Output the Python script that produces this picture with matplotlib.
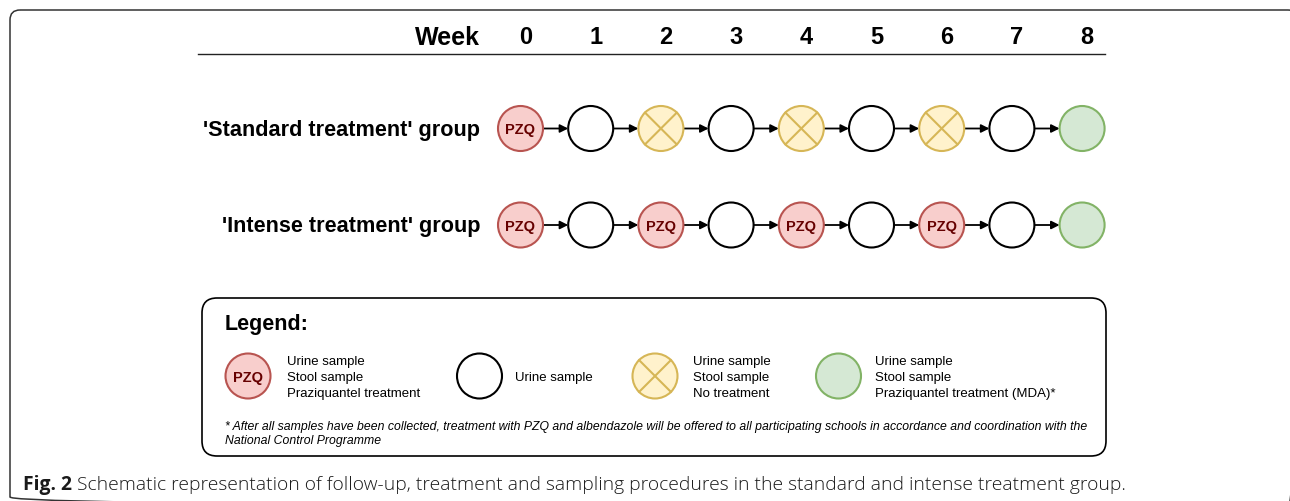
import numpy as np
import matplotlib
matplotlib.use("Agg")
import matplotlib.pyplot as plt
import matplotlib.transforms as mtransforms
from matplotlib.patches import Circle, FancyBboxPatch

plt.rcParams["font.family"] = ["Liberation Sans", "DejaVu Sans"]

# schedule data
weeks = [0, 1, 2, 3, 4, 5, 6, 7, 8]
groups = ["'Standard treatment' group", "'Intense treatment' group"]
standard_visits = ["pzq", "urine", "none", "urine", "none", "urine", "none", "urine", "mda"]
intense_visits = ["pzq", "urine", "pzq", "urine", "pzq", "urine", "pzq", "urine", "mda"]

legend_kinds = ["pzq", "urine", "none", "mda"]
legend_texts = [
    "Urine sample\nStool sample\nPraziquantel treatment",
    "Urine sample",
    "Urine sample\nStool sample\nNo treatment",
    "Urine sample\nStool sample\nPraziquantel treatment (MDA)*",
]
footnote = ("* After all samples have been collected, treatment with PZQ and albendazole will be offered "
            "to all participating schools in accordance and coordination with the\nNational Control Programme")
caption_bold = "Fig. 2"
caption_rest = " Schematic representation of follow-up, treatment and sampling procedures in the standard and intense treatment group."

# draw.io style colours
styles = {
    "pzq": dict(fc="#f8cecc", ec="#b85450"),
    "urine": dict(fc="white", ec="black"),
    "none": dict(fc="#fff2cc", ec="#d6b656"),
    "mda": dict(fc="#d5e8d4", ec="#82b366"),
}

W, H = 1290, 502
fig = plt.figure(figsize=(W / 100, H / 100), dpi=100)
ax = fig.add_axes([0, 0, 1, 1])
ax.set_xlim(0, W)
ax.set_ylim(H, 0)
ax.axis("off")

R = 22.5
x0, step = 520.5, 70.2
row_y = [129.5, 226]


def node(x, y, kind):
    st = styles[kind]
    ax.add_patch(Circle((x, y), R, facecolor=st["fc"], edgecolor=st["ec"], lw=1.5, zorder=3))
    if kind == "pzq":
        ax.text(x, y + 1, "PZQ", ha="center", va="center", fontsize=10.5,
                fontweight="bold", color="#660000", zorder=4)
    elif kind == "none":
        d = R * np.cos(np.pi / 4)
        ax.plot([x - d, x + d], [y - d, y + d], color=st["ec"], lw=1.5, zorder=4)
        ax.plot([x - d, x + d], [y + d, y - d], color=st["ec"], lw=1.5, zorder=4)


# outer frame (runs off the right and bottom of the picture)
ax.add_patch(FancyBboxPatch((10, 11), 1288, 497, boxstyle="round,pad=0,rounding_size=10",
                            fc="none", ec="#333333", lw=1.1, clip_on=False))

# header
ax.text(480, 38, "Week", ha="right", va="center", fontsize=18, fontweight="bold")
for w in weeks:
    ax.text(x0 + w * step + 5, 38, str(w), ha="center", va="center", fontsize=17, fontweight="bold")
ax.plot([198, 1105], [55, 55], color="#222222", lw=1.0)

# rows
for y, label, visits in zip(row_y, groups, [standard_visits, intense_visits]):
    ax.text(480, y + 1, label, ha="right", va="center", fontsize=15.6, fontweight="bold")
    for w, kind in zip(weeks, visits):
        node(x0 + w * step, y, kind)
    for w in weeks[:-1]:
        xa = x0 + w * step + R
        xb = x0 + (w + 1) * step - R
        ax.annotate("", xy=(xb, y), xytext=(xa, y),
                    arrowprops=dict(arrowstyle="-|>", color="black", lw=1.3,
                                    mutation_scale=12, shrinkA=0, shrinkB=0), zorder=2)

# legend box
ax.add_patch(FancyBboxPatch((202, 299), 904, 158, boxstyle="round,pad=0,rounding_size=15",
                            fc="white", ec="black", lw=1.2))
ax.text(225, 325, "Legend:", ha="left", va="center", fontsize=15.5, fontweight="bold")
leg_x = [248, 479.5, 655, 838.5]
leg_text_x = [287, 515, 693, 875]
for x, tx, kind, txt in zip(leg_x, leg_text_x, legend_kinds, legend_texts):
    node(x, 377, kind)
    ax.text(tx, 378, txt, ha="left", va="center", fontsize=9.5, linespacing=1.48)
ax.text(225, 434, footnote, ha="left", va="center", fontsize=8.8, style="italic", linespacing=1.3)

# caption
t = ax.text(23, 485, caption_bold, ha="left", va="center", fontsize=13.85,
            fontweight="bold", family="Open Sans", color="#1a1a1a")
fig.canvas.draw()
bb = t.get_window_extent()
ax.text(bb.x1, 485, caption_rest, ha="left", va="center", fontsize=13.85,
        family="Open Sans", fontweight="light", color="#1a1a1a",
        transform=mtransforms.blended_transform_factory(mtransforms.IdentityTransform(), ax.transData))

fig.savefig("out.png", dpi=100)
